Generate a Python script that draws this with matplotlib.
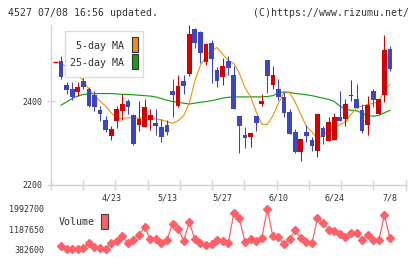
import numpy as np
import matplotlib
matplotlib.use('Agg')
import matplotlib.pyplot as plt
from matplotlib.patches import Rectangle

# daily prices (yen)
opens = [2496, 2438, 2429, 2422, 2448, 2430, 2414, 2378, 2355, 2316,
         2353, 2377, 2400, 2366, 2343, 2339, 2355, 2347, 2339, 2343,
         2425, 2388, 2448, 2464, 2572, 2566, 2494, 2540, 2474, 2457,
         2496, 2462, 2364, 2319, 2313, 2364, 2394, 2498, 2438, 2430,
         2409, 2373, 2325, 2279, 2325, 2307, 2281, 2335, 2305, 2307,
         2361, 2357, 2412, 2405, 2379, 2343, 2424, 2369, 2414, 2524]
highs = [2508, 2446, 2446, 2446, 2458, 2434, 2424, 2388, 2364, 2340,
         2388, 2416, 2404, 2370, 2400, 2405, 2380, 2381, 2357, 2355,
         2454, 2462, 2462, 2582, 2575, 2568, 2540, 2546, 2482, 2502,
         2508, 2484, 2364, 2339, 2323, 2364, 2417, 2498, 2484, 2454,
         2422, 2381, 2333, 2309, 2343, 2315, 2369, 2340, 2363, 2372,
         2425, 2405, 2450, 2441, 2393, 2412, 2430, 2405, 2558, 2531]
lows = [2454, 2417, 2402, 2412, 2430, 2386, 2377, 2353, 2327, 2307,
        2336, 2355, 2368, 2294, 2328, 2337, 2331, 2319, 2303, 2319,
        2363, 2385, 2417, 2460, 2526, 2490, 2486, 2444, 2434, 2438,
        2462, 2380, 2275, 2287, 2291, 2329, 2388, 2420, 2428, 2402,
        2363, 2321, 2275, 2257, 2303, 2281, 2267, 2297, 2305, 2307,
        2353, 2340, 2401, 2384, 2324, 2319, 2387, 2369, 2398, 2473]
closes = [2458, 2426, 2409, 2433, 2434, 2388, 2385, 2370, 2331, 2334,
          2380, 2392, 2386, 2297, 2358, 2385, 2366, 2340, 2315, 2327,
          2414, 2437, 2436, 2560, 2539, 2514, 2536, 2500, 2449, 2484,
          2480, 2380, 2341, 2312, 2323, 2348, 2401, 2460, 2462, 2410,
          2372, 2321, 2279, 2309, 2316, 2293, 2369, 2315, 2351, 2361,
          2353, 2394, 2412, 2384, 2329, 2390, 2402, 2405, 2522, 2477]
prev_close = 2494

ma5 = [2490, 2482, 2474, 2460, 2450, 2428, 2414, 2400, 2388, 2372,
       2359, 2358, 2360, 2360, 2359, 2361, 2360, 2357, 2355, 2351,
       2347, 2353, 2365, 2395, 2448, 2485, 2507, 2522, 2528, 2512,
       2497, 2490, 2466, 2432, 2410, 2375, 2345, 2344, 2365, 2395,
       2420, 2420, 2398, 2368, 2340, 2326, 2310, 2320, 2327, 2336,
       2344, 2350, 2368, 2384, 2388, 2392, 2394, 2400, 2425, 2440]
ma25 = [2390, 2398, 2406, 2412, 2416, 2417, 2418, 2418, 2418, 2418,
        2417, 2416, 2416, 2415, 2414, 2413, 2412, 2410, 2406, 2402,
        2399, 2397, 2395, 2393, 2395, 2397, 2399, 2401, 2404, 2407,
        2409, 2410, 2410, 2410, 2410, 2410, 2410, 2411, 2413, 2419,
        2422, 2421, 2418, 2417, 2415, 2413, 2410, 2407, 2404, 2399,
        2388, 2381, 2378, 2377, 2371, 2365, 2364, 2366, 2372, 2378]

volume = [515700, 395900, 395900, 395900, 422500, 622100, 489100, 422500, 382600, 622100,
          728600, 928200, 622100, 755200, 954800, 1274200, 781800, 808400, 635400, 755200,
          1394000, 1194300, 728600, 1460500, 795100, 622100, 568900, 608800, 755200, 728600,
          648700, 1819800, 1620200, 662000, 795100, 715300, 821700, 1992700, 901600, 861700,
          595500, 781800, 1141100, 821700, 688700, 622100, 1620200, 1420500, 1141100, 1101200,
          994700, 861700, 1021300, 1021300, 755200, 954800, 755200, 755200, 1753200, 821700]

date_labels = ['4/23', '5/13', '5/27', '6/10', '6/24', '7/8']
date_idx = [9, 19, 29, 39, 49, 59]
price_ticks = [2200, 2400]
vol_ticks = [382600, 1187650, 1992700]

RED = '#d40000'
BLUE = '#3c46be'
ORANGE = '#f0900a'
GREEN = '#14a014'
VOLC = '#ff5f66'
GRID = '#d4d4d4'
TXT = '#333333'
MONO = 'DejaVu Sans Mono'

W, H = 420, 259


def box(left, top, right, bottom):
    # pixel box (top-left origin) -> figure fraction rect
    return [left / W, 1 - bottom / H, (right - left) / W, (bottom - top) / H]


fig = plt.figure(figsize=(W / 100, H / 100), dpi=100)
xlim = (-1.847, 61.82)

ax = fig.add_axes(box(50.7, 25, 405.7, 184.7))
x = np.arange(len(closes))
o, h, l, c = map(np.array, (opens, highs, lows, closes))
cols = np.where(c >= o, RED, BLUE)

ax.vlines(x, l, h, colors=cols, lw=0.75, zorder=3, clip_on=False)
body_h = np.maximum(np.abs(c - o), 1.5)
ax.bar(x, body_h, bottom=np.minimum(o, c), width=0.85, color=cols, lw=0, zorder=4)
ax.hlines(prev_close, -1 - 0.5, -1 + 0.5, colors=RED, lw=1.0, zorder=4)

ax.plot(x, ma25, color=GREEN, lw=0.85, zorder=2)
ax.plot(x, ma5, color=ORANGE, lw=0.8, zorder=2)

ax.set_xlim(*xlim)
ax.set_ylim(2200, 2582)
for s in ('top', 'right'):
    ax.spines[s].set_visible(False)
for s in ('left', 'bottom'):
    ax.spines[s].set_color(GRID)
    ax.spines[s].set_linewidth(1.0)
ax.set_xticks(np.linspace(xlim[0], xlim[1], 12))
ax.set_xticklabels([])
ax.tick_params(axis='x', direction='inout', length=6.5, color=GRID, width=1.0)
ax.set_yticks(price_ticks)
ax.set_yticklabels([str(t) for t in price_ticks], fontsize=6, family=MONO, color=TXT)
ax.tick_params(axis='y', direction='inout', length=6, color=GRID, width=1.0, pad=3)
ax.set_facecolor('none')

for i, lab in zip(date_idx, date_labels):
    ax.text(i, -0.081, lab, transform=ax.get_xaxis_transform(), ha='center', va='center',
            fontsize=6, family=MONO, color=TXT)

# volume panel
axv = fig.add_axes(box(50.7, 205, 405.7, 253))
axv.plot(x, volume, color=VOLC, lw=0.9, marker='D', ms=3.6, mec=VOLC, mfc=VOLC)
axv.set_xlim(*xlim)
axv.set_ylim(234800, 2152500)
for s in axv.spines.values():
    s.set_visible(False)
axv.set_xticks([])
axv.set_yticks(vol_ticks)
axv.set_yticklabels([str(t) for t in vol_ticks], fontsize=6, family=MONO, color=TXT)
axv.tick_params(axis='y', length=0, pad=4.8)
axv.set_facecolor('none')


# legend boxes drawn in figure pixels
def rect(left, top, right, bottom, fc, ec, lw=1.0):
    r = Rectangle((left / W, 1 - bottom / H), (right - left) / W, (bottom - top) / H,
                  transform=fig.transFigure, fc=fc, ec=ec, lw=lw, zorder=10)
    fig.add_artist(r)


def ftext(px, py, s, ha='left', size=7.2):
    fig.text(px / W, 1 - py / H, s, ha=ha, va='center', fontsize=size, family=MONO,
             color=TXT, zorder=11)


rect(65.3, 30.7, 143.3, 77.3, 'white', '#dddddd')
ftext(124, 46, '5-day MA', ha='right')
ftext(124, 63.3, '25-day MA', ha='right')
rect(131.5, 37.3, 137.5, 52.3, ORANGE, '#333333', 0.8)
rect(131.5, 54.3, 137.5, 69.3, GREEN, '#333333', 0.8)

ftext(58.3, 222.3, 'Volume')
rect(101.2, 213.5, 107.5, 229.2, VOLC, '#444444', 0.8)

ftext(8.3, 12.7, '4527 07/08 16:56 updated.', size=7.1)
ftext(409, 12.7, '(C)https://www.rizumu.net/', ha='right', size=7.1)

fig.savefig('out.png', dpi=100, facecolor='white')
